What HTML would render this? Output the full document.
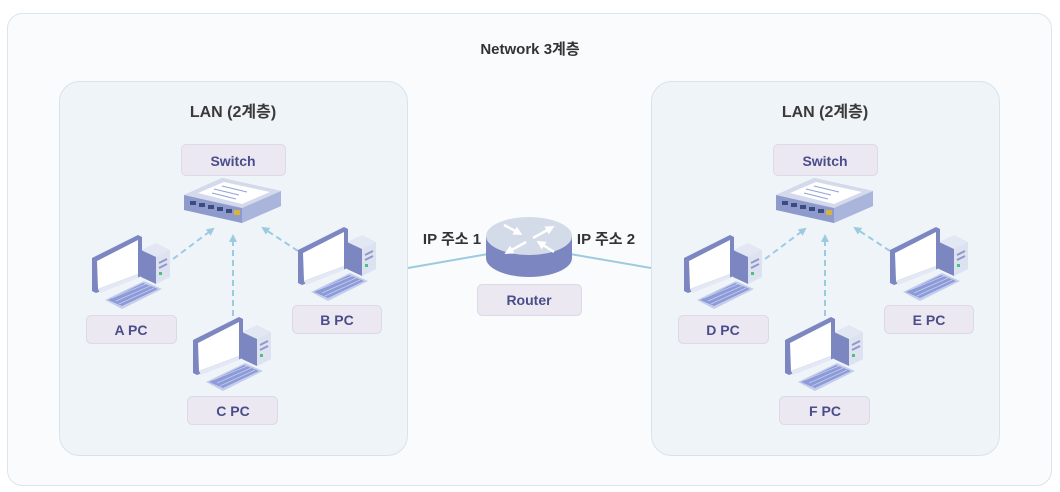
<!DOCTYPE html>
<html><head><meta charset="utf-8"><style>
body{margin:0;background:#fff;}
svg{display:block}
text{font-family:"Liberation Sans","Noto Sans CJK KR",sans-serif;font-weight:bold;}
</style></head><body>
<svg width="1060" height="492" viewBox="0 0 1060 492" xmlns="http://www.w3.org/2000/svg">
<defs>
<g id="pc">
  <polygon points="53,20 68,13 82,20 82,47 68,54 53,47" fill="#e3e7f3"/>
  <polygon points="53,20 68,27 68,54 53,47" fill="#7c86c0"/>
  <polygon points="68,27 82,20 82,47 68,54" fill="#dde2f0"/>
  <line x1="71" y1="33" x2="79" y2="29" stroke="#8e98cc" stroke-width="2"/>
  <line x1="71" y1="38" x2="79" y2="34" stroke="#8e98cc" stroke-width="2"/>
  <rect x="71" y="42" width="3" height="3" fill="#4fbf7a"/>
  <polygon points="4,28 50,5 54,7 54,46 8,63 4,61" fill="#7c86c0"/>
  <polygon points="9,31 50,10 50,44 10,59" fill="#ffffff"/>
  <polygon points="10,59 50,44 50,48 12,63" fill="#e4e8f4"/>
  <polygon points="17,70 56,51 74,59 34,79" fill="#c5cdec"/>
  <polygon points="20,70 55,53 70,59 34,76" fill="#8c9bd8"/>
  <g stroke="#c5cdec" stroke-width="0.8">
    <line x1="24" y1="68" x2="58" y2="54"/><line x1="28" y1="71" x2="62" y2="56"/><line x1="31" y1="74" x2="66" y2="58"/>
  </g>
</g>
<g id="sw">
  <polygon points="0,17 38,0 97,13 97,28 58,45 0,32" fill="#b8c2e0"/>
  <polygon points="0,17 58,30 58,45 0,32" fill="#8e9acb"/>
  <polygon points="58,30 97,13 97,28 58,45" fill="#aab5dc"/>
  <polygon points="0,17 38,0 97,13 58,30" fill="#d4daec"/>
  <polygon points="14,15 40,4 86,14 58,26" fill="#ffffff"/>
  <g stroke="#8fa3d8" stroke-width="1"><line x1="38" y1="8" x2="63" y2="14"/><line x1="30" y1="11" x2="55" y2="17"/><line x1="28" y1="15" x2="52" y2="21"/></g>
  <g fill="#3d4a80"><rect x="6" y="23" width="6" height="4"/><rect x="15" y="25" width="6" height="4"/><rect x="24" y="27" width="6" height="4"/><rect x="33" y="29" width="6" height="4"/><rect x="42" y="31" width="6" height="4"/></g>
  <rect x="50" y="32" width="6" height="5" fill="#d9b43a"/>
</g>
<marker id="ah" markerWidth="8" markerHeight="8" refX="6" refY="4" orient="auto" markerUnits="userSpaceOnUse"><path d="M0,0 L8,4 L0,8 Z" fill="#9ccbe0"/></marker>
<marker id="wh" markerWidth="9" markerHeight="9" refX="5" refY="4.5" orient="auto" markerUnits="userSpaceOnUse"><path d="M0,0 L9,4.5 L0,9 Z" fill="#fff"/></marker>
</defs>
<rect x="7.5" y="13.5" width="1044" height="472" rx="15" fill="#f9fbfc" stroke="#dde4ee"/>
<text x="530" y="54" text-anchor="middle" font-size="15" fill="#333">Network 3계층</text>

<g id="lan">
<rect x="59.5" y="81.5" width="348" height="374" rx="20" fill="#eff4f9" stroke="#d6e4ee"/>
<text x="233" y="117" text-anchor="middle" font-size="16" fill="#3a3a3a">LAN (2계층)</text>
<rect x="181.5" y="144.5" width="104" height="31" rx="5" fill="#ece8f1" stroke="#ddd9e6"/>
<text x="233" y="166" text-anchor="middle" font-size="14" fill="#4a4d8a">Switch</text>
<use href="#sw" x="184" y="178"/>
<g stroke="#9ccbe0" stroke-width="2" stroke-dasharray="6,4" fill="none" marker-end="url(#ah)">
<line x1="165" y1="265" x2="213" y2="229"/>
<line x1="233" y1="316" x2="233" y2="236"/>
<line x1="298" y1="251" x2="263" y2="228"/>
</g>
<use href="#pc" x="88" y="230"/>
<use href="#pc" x="294" y="222"/>
<use href="#pc" x="189" y="312"/>
<rect x="86.5" y="315.5" width="90" height="28" rx="5" fill="#ece8f1" stroke="#ddd9e6"/>
<text x="131" y="335" text-anchor="middle" font-size="14" fill="#4a4d8a">A PC</text>
<rect x="292.5" y="305.5" width="89" height="28" rx="5" fill="#ece8f1" stroke="#ddd9e6"/>
<text x="337" y="325" text-anchor="middle" font-size="14" fill="#4a4d8a">B PC</text>
<rect x="187.5" y="396.5" width="90" height="28" rx="5" fill="#ece8f1" stroke="#ddd9e6"/>
<text x="233" y="416" text-anchor="middle" font-size="14" fill="#4a4d8a">C PC</text>
</g>

<g transform="translate(592,0)">
<rect x="59.5" y="81.5" width="348" height="374" rx="20" fill="#eff4f9" stroke="#d6e4ee"/>
<text x="233" y="117" text-anchor="middle" font-size="16" fill="#3a3a3a">LAN (2계층)</text>
<rect x="181.5" y="144.5" width="104" height="31" rx="5" fill="#ece8f1" stroke="#ddd9e6"/>
<text x="233" y="166" text-anchor="middle" font-size="14" fill="#4a4d8a">Switch</text>
<use href="#sw" x="184" y="178"/>
<g stroke="#9ccbe0" stroke-width="2" stroke-dasharray="6,4" fill="none" marker-end="url(#ah)">
<line x1="165" y1="265" x2="213" y2="229"/>
<line x1="233" y1="316" x2="233" y2="236"/>
<line x1="298" y1="251" x2="263" y2="228"/>
</g>
<use href="#pc" x="88" y="230"/>
<use href="#pc" x="294" y="222"/>
<use href="#pc" x="189" y="312"/>
<rect x="86.5" y="315.5" width="90" height="28" rx="5" fill="#ece8f1" stroke="#ddd9e6"/>
<text x="131" y="335" text-anchor="middle" font-size="14" fill="#4a4d8a">D PC</text>
<rect x="292.5" y="305.5" width="89" height="28" rx="5" fill="#ece8f1" stroke="#ddd9e6"/>
<text x="337" y="325" text-anchor="middle" font-size="14" fill="#4a4d8a">E PC</text>
<rect x="187.5" y="396.5" width="90" height="28" rx="5" fill="#ece8f1" stroke="#ddd9e6"/>
<text x="233" y="416" text-anchor="middle" font-size="14" fill="#4a4d8a">F PC</text>
</g>

<line x1="408" y1="268" x2="488" y2="254" stroke="#9ccbe0" stroke-width="2"/>
<line x1="570" y1="254" x2="651" y2="268" stroke="#9ccbe0" stroke-width="2"/>
<path d="M486,236 L486,258 A43,19 0 0 0 572,258 L572,236 Z" fill="#7c86c0"/>
<ellipse cx="529" cy="236" rx="43" ry="19" fill="#d3dbe9"/>
<g stroke="#fff" stroke-width="2.5" fill="none">
<line x1="504" y1="225" x2="519" y2="233" marker-end="url(#wh)"/>
<line x1="533" y1="238" x2="551" y2="228" marker-end="url(#wh)"/>
<line x1="554" y1="252" x2="540" y2="243" marker-end="url(#wh)"/>
<line x1="526" y1="242" x2="508" y2="252" marker-end="url(#wh)"/>
</g>
<text x="452" y="244" text-anchor="middle" font-size="15" fill="#333">IP 주소 1</text>
<text x="606" y="244" text-anchor="middle" font-size="15" fill="#333">IP 주소 2</text>
<rect x="477.5" y="284.5" width="104" height="31" rx="5" fill="#ece8f1" stroke="#ddd9e6"/>
<text x="529" y="305" text-anchor="middle" font-size="14" fill="#4a4d8a">Router</text>
</svg>
</body></html>
